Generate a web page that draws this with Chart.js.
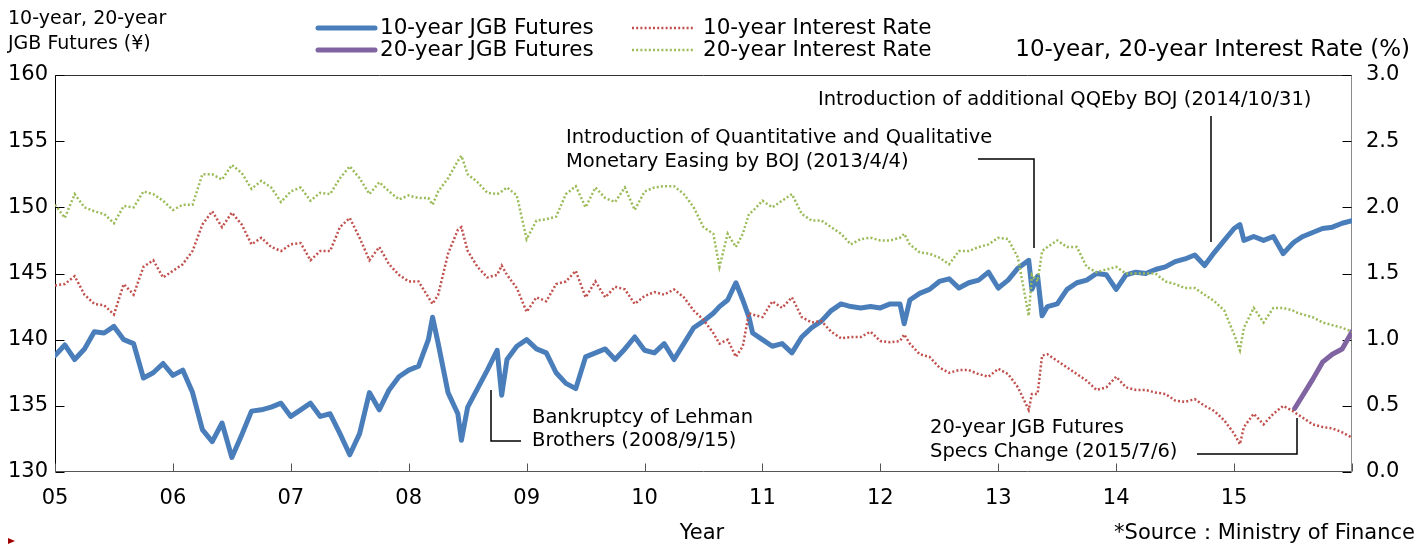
<!DOCTYPE html>
<html><head><meta charset="utf-8">
<script src="https://cdn.jsdelivr.net/npm/chart.js@4/dist/chart.umd.min.js"></script>
<style>html,body{margin:0;padding:0;background:#fff}#wrap{width:1427px;height:544px;position:relative}</style>
</head><body><div id="wrap"><canvas id="c"></canvas></div>
<script>
// ---------- DATA ----------
const dates = [
 '2005/1','2005/2','2005/3','2005/4','2005/5','2005/6','2005/7','2005/8','2005/9','2005/10','2005/11','2005/12',
 '2006/1','2006/2','2006/3','2006/4','2006/5','2006/6','2006/7','2006/8','2006/9','2006/10','2006/11','2006/12',
 '2007/1','2007/2','2007/3','2007/4','2007/5','2007/6','2007/7','2007/8','2007/9','2007/10','2007/11','2007/12',
 '2008/1','2008/2','2008/3','2008/3/14','2008/4','2008/5','2008/6','2008/6/12','2008/7','2008/8','2008/9','2008/10','2008/10/15','2008/11','2008/12',
 '2009/1','2009/2','2009/3','2009/4','2009/5','2009/6','2009/7','2009/8','2009/9','2009/10','2009/11','2009/12',
 '2010/1','2010/2','2010/3','2010/4','2010/5','2010/6','2010/7','2010/8','2010/8/20','2010/9/15','2010/10/10','2010/11','2010/11/20','2010/12',
 '2011/1','2011/2','2011/3','2011/4','2011/5','2011/6','2011/7','2011/8','2011/9','2011/10','2011/11','2011/12',
 '2012/1','2012/2','2012/3','2012/3/14','2012/4','2012/5','2012/6','2012/7','2012/8','2012/9','2012/10','2012/11','2012/12',
 '2013/1','2013/2','2013/3','2013/4/4','2013/4/14','2013/5','2013/5/15','2013/6','2013/7','2013/8','2013/9','2013/10','2013/11','2013/12',
 '2014/1','2014/2','2014/3','2014/4','2014/5','2014/6','2014/7','2014/8','2014/9','2014/10','2014/11','2014/12',
 '2015/1','2015/1/19','2015/2','2015/3','2015/4','2015/5','2015/6','2015/7','2015/7/6','2015/8','2015/9','2015/10','2015/11','2015/12',
 '2016/1'
];
const futures10 = [
 138.8,139.6,138.5,139.3,140.6,140.5,141.0,140.0,139.7,137.1,137.5,138.2,
 137.3,137.7,136.0,133.2,132.3,133.7,131.1,132.8,134.6,134.7,134.9,135.2,
 134.2,134.7,135.2,134.2,134.4,132.9,131.3,132.9,136.0,134.7,136.2,137.2,
 137.7,138.0,140.0,141.7,139.7,136.0,134.4,132.4,134.9,136.3,137.7,139.2,135.8,138.5,139.5,
 140.0,139.3,139.0,137.5,136.7,136.3,138.7,139.0,139.3,138.5,139.3,140.2,
 139.2,139.0,139.7,138.5,139.7,140.9,141.4,142.0,142.5,143.0,144.3,143.0,141.7,140.5,
 140.0,139.5,139.7,139.0,140.2,140.9,141.4,142.2,142.7,142.5,142.4,142.5,
 142.4,142.7,142.7,141.2,143.0,143.5,143.8,144.4,144.6,143.9,144.3,144.5,145.1,
 143.9,144.5,145.4,146.0,143.8,144.8,141.8,142.5,142.7,143.8,144.3,144.5,145.0,144.9,
 143.8,144.9,145.1,145.0,145.3,145.5,145.9,146.1,146.4,145.6,146.6,147.5,
 148.4,148.7,147.5,147.8,147.5,147.8,146.5,147.3,147.4,147.8,148.1,148.4,148.5,148.8,
 149.0
];
const rate10 = [
 1.41,1.42,1.48,1.34,1.27,1.26,1.19,1.42,1.34,1.55,1.60,1.47,
 1.52,1.57,1.67,1.87,1.97,1.85,1.96,1.87,1.72,1.77,1.70,1.67,
 1.72,1.73,1.60,1.67,1.67,1.85,1.92,1.77,1.60,1.70,1.57,1.49,
 1.44,1.44,1.32,1.27,1.34,1.65,1.83,1.85,1.67,1.55,1.47,1.49,1.56,1.49,1.39,
 1.21,1.32,1.29,1.42,1.44,1.52,1.32,1.44,1.32,1.40,1.38,1.27,
 1.33,1.36,1.34,1.38,1.32,1.22,1.15,1.05,0.97,1.00,0.87,0.95,1.20,1.19,
 1.17,1.29,1.24,1.32,1.17,1.13,1.14,1.06,1.01,1.02,1.02,1.06,
 0.99,0.98,0.99,1.04,0.97,0.89,0.87,0.79,0.75,0.77,0.77,0.74,0.72,
 0.78,0.74,0.64,0.47,0.59,0.59,0.88,0.89,0.84,0.79,0.74,0.69,0.62,0.64,
 0.72,0.64,0.62,0.62,0.60,0.59,0.54,0.53,0.55,0.50,0.46,0.39,
 0.29,0.21,0.34,0.44,0.36,0.44,0.50,0.46,0.45,0.41,0.36,0.34,0.33,0.30,
 0.26
];
const rate20 = [
 2.02,1.92,2.10,2.00,1.97,1.95,1.88,2.01,2.00,2.12,2.10,2.05,
 1.98,2.02,2.02,2.25,2.25,2.21,2.32,2.26,2.14,2.20,2.15,2.04,
 2.12,2.15,2.05,2.11,2.10,2.22,2.31,2.22,2.10,2.19,2.12,2.06,
 2.09,2.07,2.07,2.02,2.12,2.22,2.35,2.39,2.25,2.19,2.11,2.10,2.12,2.15,2.09,
 1.76,1.90,1.91,1.93,2.10,2.16,2.00,2.15,2.07,2.04,2.15,1.98,
 2.12,2.15,2.16,2.16,2.10,2.00,1.85,1.80,1.55,1.80,1.70,1.80,1.95,1.97,
 2.05,2.00,2.05,2.10,1.95,1.90,1.90,1.85,1.80,1.72,1.76,1.77,
 1.75,1.75,1.77,1.80,1.72,1.66,1.65,1.62,1.57,1.67,1.67,1.70,1.72,
 1.77,1.76,1.62,1.18,1.49,1.44,1.67,1.70,1.75,1.70,1.70,1.55,1.51,1.53,
 1.55,1.50,1.50,1.50,1.50,1.44,1.42,1.39,1.39,1.34,1.29,1.22,
 1.04,0.92,1.09,1.24,1.13,1.24,1.24,1.22,1.21,1.19,1.17,1.13,1.11,1.09,
 1.06
];
const futures20Dates = ['2015/7/6','2015/8','2015/9','2015/10','2015/11','2015/12','2016/1'];
const futures20 = [134.8,135.8,137.0,138.3,138.9,139.3,140.6];

const xTickLabels = ['05','06','07','08','09','10','11','12','13','14','15'];
const seriesNames = ['10-year JGB Futures','20-year JGB Futures','10-year Interest Rate','20-year Interest Rate'];

// ---------- HELPERS ----------
function toYear(s){const p=s.split('/').map(Number);return p[0]+((p[1]||1)-1)/12+((p[2]||1)-1)/365;}
function pts(ds,vals){return ds.map((d,i)=>({x:toYear(d),y:vals[i]}));}
const FONT='"DejaVu Sans","Liberation Sans",sans-serif';
const BLUE='#4a7ebb',PURPLE='#8064a2',RED='#c0504d',GREEN='#9bbb59';

const deco={
 id:'deco',
 beforeDatasetsDraw(chart){
  const {ctx,chartArea:a,scales}=chart;
  const L=Math.round(a.left)+0.5,R=Math.round(a.right)-0.5,T=Math.round(a.top)+0.5,B=Math.round(a.bottom)-0.5;
  ctx.save();ctx.lineWidth=1;
  const ln=(x1,y1,x2,y2,c)=>{ctx.strokeStyle=c;ctx.beginPath();ctx.moveTo(x1,y1);ctx.lineTo(x2,y2);ctx.stroke();};
  ln(L,T,R,T,'#333');ln(L,T,L,B,'#000');ln(R,T,R,B,'#8a8a8a');ln(L,B,R,B,'#555');
  scales.y.ticks.forEach(t=>{const y=Math.round(scales.y.getPixelForValue(t.value))+0.5;ln(L,y,L+9,y,'#000');});
  scales.y1.ticks.forEach(t=>{const y=Math.round(scales.y1.getPixelForValue(t.value))+0.5;ln(R-9,y,R,y,'#000');});
  scales.x.ticks.forEach(t=>{const x=Math.round(scales.x.getPixelForValue(t.value))+0.5;ln(x,B,x,B-8,'#555');});
  ctx.restore();
 },
 afterDraw(chart){
  const {ctx}=chart;
  ctx.save();
  ctx.fillStyle='#000';ctx.textBaseline='middle';
  const txt=(s,x,y,size,align)=>{ctx.font=size+'px '+FONT;ctx.textAlign=align||'left';ctx.fillText(s,x,y);};
  // axis titles
  txt('10-year, 20-year',8,19,19);
  txt('JGB Futures (¥)',8,44,19);
  txt('10-year, 20-year Interest Rate (%)',1410,50,23,'right');
  txt('Year',702,534,21,'center');
  txt('*Source：Ministry of Finance',1415,534,21,'right');
  // legend
  const ds=chart.data.datasets;
  const pos=[[318,375,380,28],[318,375,380,50],[632,695,703,28],[632,695,703,50]];
  ds.forEach((d,i)=>{
   const p=pos[i];
   ctx.strokeStyle=d.borderColor;ctx.lineWidth=d.borderWidth;ctx.setLineDash(d.borderDash||[]);
   ctx.lineCap=d.borderDash&&d.borderDash.length?'butt':'round';
   ctx.beginPath();ctx.moveTo(p[0],p[3]);ctx.lineTo(p[1],p[3]);ctx.stroke();
   ctx.setLineDash([]);
   txt(d.label,p[2],p[3],21.5);
  });
  // annotations
  txt('Introduction of additional QQEby BOJ (2014/10/31)',818,100,19.5);
  txt('Introduction of Quantitative and Qualitative',566,138,19.5);
  txt('Monetary Easing by BOJ (2013/4/4)',566,162,19.5);
  txt('Bankruptcy of Lehman',532,418,19.5);
  txt('Brothers (2008/9/15)',532,441,19.5);
  txt('20-year JGB Futures',930,428,19.5);
  txt('Specs Change (2015/7/6)',930,452,19.5);
  ctx.strokeStyle='#000';ctx.lineWidth=1.5;ctx.lineCap='butt';
  const poly=(a)=>{ctx.beginPath();ctx.moveTo(a[0][0],a[0][1]);for(let i=1;i<a.length;i++)ctx.lineTo(a[i][0],a[i][1]);ctx.stroke();};
  poly([[1211,116],[1211,242]]);
  poly([[978,159],[1034,159],[1034,248]]);
  poly([[491,390],[491,441],[521,441]]);
  poly([[1197,454],[1297,454],[1297,418]]);
  // corner marker
  ctx.fillStyle='#a00000';ctx.beginPath();ctx.moveTo(8,538);ctx.lineTo(15,541);ctx.lineTo(8,544);ctx.closePath();ctx.fill();
  ctx.restore();
 }
};

new Chart(document.getElementById('c'),{
 type:'line',
 data:{datasets:[
  {label:seriesNames[0],data:pts(dates,futures10),yAxisID:'y',borderColor:BLUE,borderWidth:5,order:1,borderJoinStyle:'round',borderCapStyle:'round'},
  {label:seriesNames[1],data:pts(futures20Dates,futures20),yAxisID:'y',borderColor:PURPLE,borderWidth:5,order:1,borderJoinStyle:'round',borderCapStyle:'round'},
  {label:seriesNames[2],data:pts(dates,rate10),yAxisID:'y1',borderColor:RED,borderWidth:2.5,borderDash:[2,2.2],order:0},
  {label:seriesNames[3],data:pts(dates,rate20),yAxisID:'y1',borderColor:GREEN,borderWidth:2.5,borderDash:[2,2.2],order:0}
 ]},
 options:{
  responsive:true,maintainAspectRatio:false,animation:false,devicePixelRatio:1,
  layout:{padding:{top:75,left:0,right:0,bottom:0}},
  elements:{point:{radius:0},line:{tension:0}},
  plugins:{legend:{display:false},tooltip:{enabled:false}},
  scales:{
   x:{type:'linear',min:2005,max:2016,grid:{display:false,drawTicks:false},border:{display:false},
      ticks:{stepSize:1,autoSkip:false,maxRotation:0,padding:14,color:'#000',font:{family:FONT,size:21},
        callback:(v)=>xTickLabels[Math.round(v-2005)]||''},
      afterFit(s){s.height=72;}},
   y:{position:'left',min:130,max:160,grid:{display:false,drawTicks:false},border:{display:false},
      ticks:{stepSize:5,padding:7,color:'#000',font:{family:FONT,size:21}},
      afterFit(s){s.width=55;}},
   y1:{position:'right',min:0,max:3,grid:{display:false,drawTicks:false},border:{display:false},
      ticks:{stepSize:0.5,padding:14,color:'#000',font:{family:FONT,size:21},callback:(v)=>Number(v).toFixed(1)},
      afterFit(s){s.width=75;}}
  }
 },
 plugins:[deco]
});
</script></body></html>
